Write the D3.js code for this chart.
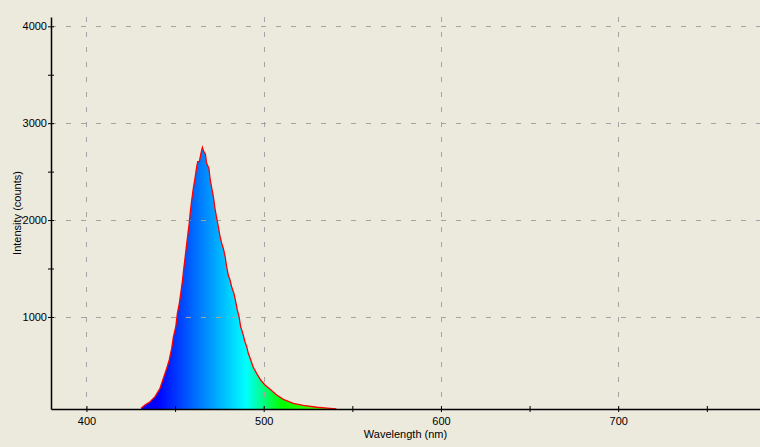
<!DOCTYPE html>
<html lang="en">
<head>
	<meta charset="utf-8">
	<script src="https://d3js.org/d3.v7.min.js"></script>
	<style>
		body { margin: 0; background: #ece9dd; }
		svg { display: block; }
		text { font-family: "Liberation Sans", Arial, sans-serif; font-size: 11px; fill: #000; }
	</style>
</head>
<body>
	<script type="text/javascript">

		var svgWidth = 760;
		var svgHeight = 447;

		// spectrum (wavelength in nm, intensity in counts)
		var wavelengths = [
			430.8, 433.0, 435.9, 438.7, 441.5, 443.4, 445.3, 446.7, 448.1, 449.0,
			450.4, 451.3, 452.4, 453.2, 454.1, 454.7, 455.6, 456.6, 457.5, 458.0,
			458.6, 459.4, 460.3, 461.4, 462.2, 462.8, 463.7, 464.6, 465.4, 466.2,
			467.1, 467.8, 469.1, 469.7, 470.7, 471.6, 472.5, 473.5, 474.4, 475.3,
			476.3, 477.2, 478.2, 479.1, 480.0, 481.0, 481.9, 483.2, 484.4, 485.1,
			486.1, 487.0, 488.2, 489.4, 490.4, 491.3, 492.7, 494.1, 496.0, 498.3,
			500.7, 503.6, 507.3, 511.1, 516.7, 522.3, 529.9, 537.4, 541.0
		];
		var counts = [
			57, 91, 125, 177, 264, 367, 470, 556, 676, 790,
			899, 1038, 1141, 1244, 1364, 1467, 1605, 1760, 1897, 1966,
			2086, 2207, 2328, 2448, 2551, 2603, 2603, 2689, 2751, 2706,
			2682, 2586, 2534, 2431, 2328, 2241, 2121, 2018, 1932, 1836,
			1760, 1709, 1629, 1519, 1433, 1381, 1312, 1244, 1141, 1072,
			1003, 899, 831, 744, 693, 625, 556, 480, 418, 349,
			298, 253, 194, 150, 109, 88, 68, 57, 50
		];

		var xMajorTicks = [400, 500, 600, 700];
		var xMinorTicks = [450, 550, 650, 750];
		var yMajorTicks = [1000, 2000, 3000, 4000];
		var yMinorTicks = [1500, 2500, 3500];

		var xTitle = "Wavelength (nm)";
		var yTitle = "Intensity (counts)";

		var plotLeft = 51, plotRight = 760, plotTop = 17, plotBottom = 409;

		var svg = d3.select("body")
			.append("svg")
			.attr("width", svgWidth)
			.attr("height", svgHeight);

		var x = d3.scaleLinear().domain([380, 780]).range([plotLeft, plotRight]);
		var y = d3.scaleLinear().domain([50, 4096]).range([plotBottom, plotTop]).clamp(true);

		var spectrum = wavelengths.map(function(w, i) { return {w: w, c: counts[i]}; });

		// colour ramp across the visible spectrum
		var rampStops = [
			{w: 440, color: "#0000ff"},
			{w: 490, color: "#00ffff"},
			{w: 510, color: "#00ff00"},
			{w: 580, color: "#ffff00"},
			{w: 645, color: "#ff0000"}
		];
		var grad = svg.append("defs").append("linearGradient")
			.attr("id", "spectrumFill")
			.attr("gradientUnits", "userSpaceOnUse")
			.attr("x1", x.range()[0]).attr("x2", x.range()[1])
			.attr("y1", 0).attr("y2", 0);
		grad.selectAll("stop")
			.data(rampStops)
			.enter()
			.append("stop")
				.attr("offset", function(d) { return (x(d.w) - plotLeft) / (plotRight - plotLeft); })
				.attr("stop-color", function(d) { return d.color; });

		// filled spectrum
		var area = d3.area()
			.x(function(d) { return x(d.w); })
			.y0(y(50))
			.y1(function(d) { return y(d.c); });

		svg.append("path")
			.datum(spectrum)
			.attr("fill", "url(#spectrumFill)")
			.attr("d", area);

		// dashed grid
		svg.append("g")
			.selectAll("line")
			.data(xMajorTicks)
			.enter()
			.append("line")
				.attr("x1", function(d) { return Math.round(x(d)) + 0.5; })
				.attr("x2", function(d) { return Math.round(x(d)) + 0.5; })
				.attr("y1", plotTop)
				.attr("y2", plotBottom)
				.attr("stroke", "#a3a3a3")
				.attr("stroke-dasharray", "5,10");

		svg.append("g")
			.selectAll("line")
			.data(yMajorTicks)
			.enter()
			.append("line")
				.attr("x1", plotLeft)
				.attr("x2", plotRight)
				.attr("y1", function(d) { return Math.round(y(d)) + 0.5; })
				.attr("y2", function(d) { return Math.round(y(d)) + 0.5; })
				.attr("stroke", "#a3a3a3")
				.attr("stroke-dasharray", "5,10");

		// red outline
		var line = d3.line()
			.x(function(d) { return x(d.w); })
			.y(function(d) { return y(d.c); });

		svg.append("path")
			.datum(spectrum)
			.attr("fill", "none")
			.attr("stroke", "#ff0000")
			.attr("stroke-width", 1.3)
			.attr("d", line);

		// axes
		var xAxis = svg.append("g")
			.attr("transform", "translate(0," + plotBottom + ")")
			.call(d3.axisBottom(x).tickValues(xMajorTicks).tickFormat(d3.format("d"))
				.tickSizeInner(3).tickSizeOuter(0).tickPadding(5));
		svg.append("g")
			.attr("transform", "translate(0," + plotBottom + ")")
			.call(d3.axisBottom(x).tickValues(xMinorTicks).tickSizeInner(3).tickSizeOuter(0).tickFormat(""))
			.select(".domain").remove();

		var yAxis = svg.append("g")
			.attr("transform", "translate(" + plotLeft + ",0)")
			.call(d3.axisLeft(y).tickValues(yMajorTicks).tickFormat(d3.format("d"))
				.tickSizeInner(3).tickSizeOuter(0).tickPadding(1));
		svg.append("g")
			.attr("transform", "translate(" + plotLeft + ",0)")
			.call(d3.axisLeft(y).tickValues(yMinorTicks).tickSizeInner(3).tickSizeOuter(0).tickFormat(""))
			.select(".domain").remove();

		// ticks cross the axis line
		svg.selectAll(".tick line").each(function() {
			var t = d3.select(this);
			if (t.attr("y2") !== null && +t.attr("y2") !== 0) t.attr("y1", -3);
			if (t.attr("x2") !== null && +t.attr("x2") !== 0) t.attr("x1", 3);
		});
		svg.selectAll(".domain").attr("stroke", "#000").attr("stroke-width", 1.5);
		svg.selectAll(".tick line").attr("stroke", "#000");
		xAxis.attr("font-family", null).attr("font-size", null);
		yAxis.attr("font-family", null).attr("font-size", null);

		// axis titles
		svg.append("text")
			.attr("x", (plotLeft + plotRight) / 2)
			.attr("y", 438)
			.attr("text-anchor", "middle")
			.text(xTitle);

		svg.append("text")
			.attr("transform", "translate(21," + 213 + ") rotate(-90)")
			.attr("text-anchor", "middle")
			.text(yTitle);

	</script>
</body>
</html>
